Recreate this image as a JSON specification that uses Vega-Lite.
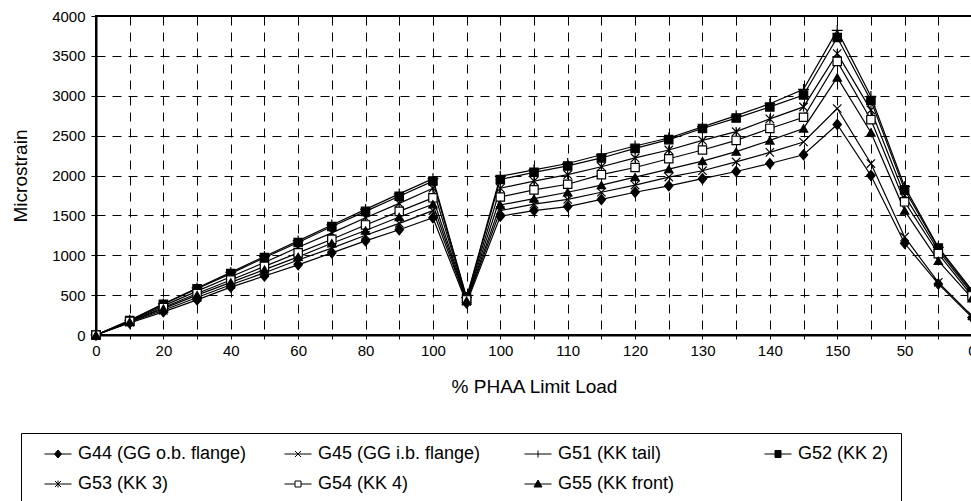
{
  "$schema": "https://vega.github.io/schema/vega-lite/v6.json",
  "autosize": {"type": "none"},
  "padding": {"left": 96, "top": 16, "right": 0, "bottom": 166},
  "width": 876,
  "height": 319,
  "background": "white",
  "config": {
    "font": "Liberation Sans",
    "view": {"stroke": "black", "strokeWidth": 2},
    "axis": {"labelColor": "black", "titleColor": "black", "titleFontWeight": "normal"},
    "legend": {
      "title": null, "orient": "none", "legendX": -75, "legendY": 417,
      "direction": "horizontal", "columns": 4, "gridAlign": "all",
      "columnPadding": 26, "rowPadding": 12, "padding": 12,
      "strokeColor": "black", "fillColor": "white",
      "labelFont": "Liberation Sans", "labelFontSize": 18, "labelColor": "black", "labelOffset": 11, "labelLimit": 400,
      "symbolSize": 100, "symbolOffset": 16, "symbolStrokeColor": "black", "symbolStrokeWidth": 1
    }
  },
  "data": {"values": [
    {"step":0,"gauge":"G44 (GG o.b. flange)","microstrain":0},
    {"step":1,"gauge":"G44 (GG o.b. flange)","microstrain":150},
    {"step":2,"gauge":"G44 (GG o.b. flange)","microstrain":290},
    {"step":3,"gauge":"G44 (GG o.b. flange)","microstrain":440},
    {"step":4,"gauge":"G44 (GG o.b. flange)","microstrain":600},
    {"step":5,"gauge":"G44 (GG o.b. flange)","microstrain":740},
    {"step":6,"gauge":"G44 (GG o.b. flange)","microstrain":880},
    {"step":7,"gauge":"G44 (GG o.b. flange)","microstrain":1030},
    {"step":8,"gauge":"G44 (GG o.b. flange)","microstrain":1180},
    {"step":9,"gauge":"G44 (GG o.b. flange)","microstrain":1320},
    {"step":10,"gauge":"G44 (GG o.b. flange)","microstrain":1470},
    {"step":11,"gauge":"G44 (GG o.b. flange)","microstrain":400},
    {"step":12,"gauge":"G44 (GG o.b. flange)","microstrain":1490},
    {"step":13,"gauge":"G44 (GG o.b. flange)","microstrain":1560},
    {"step":14,"gauge":"G44 (GG o.b. flange)","microstrain":1610},
    {"step":15,"gauge":"G44 (GG o.b. flange)","microstrain":1700},
    {"step":16,"gauge":"G44 (GG o.b. flange)","microstrain":1790},
    {"step":17,"gauge":"G44 (GG o.b. flange)","microstrain":1870},
    {"step":18,"gauge":"G44 (GG o.b. flange)","microstrain":1960},
    {"step":19,"gauge":"G44 (GG o.b. flange)","microstrain":2050},
    {"step":20,"gauge":"G44 (GG o.b. flange)","microstrain":2150},
    {"step":21,"gauge":"G44 (GG o.b. flange)","microstrain":2260},
    {"step":22,"gauge":"G44 (GG o.b. flange)","microstrain":2640},
    {"step":23,"gauge":"G44 (GG o.b. flange)","microstrain":2000},
    {"step":24,"gauge":"G44 (GG o.b. flange)","microstrain":1150},
    {"step":25,"gauge":"G44 (GG o.b. flange)","microstrain":640},
    {"step":26,"gauge":"G44 (GG o.b. flange)","microstrain":220},
    {"step":0,"gauge":"G45 (GG i.b. flange)","microstrain":0},
    {"step":1,"gauge":"G45 (GG i.b. flange)","microstrain":160},
    {"step":2,"gauge":"G45 (GG i.b. flange)","microstrain":310},
    {"step":3,"gauge":"G45 (GG i.b. flange)","microstrain":470},
    {"step":4,"gauge":"G45 (GG i.b. flange)","microstrain":630},
    {"step":5,"gauge":"G45 (GG i.b. flange)","microstrain":780},
    {"step":6,"gauge":"G45 (GG i.b. flange)","microstrain":940},
    {"step":7,"gauge":"G45 (GG i.b. flange)","microstrain":1090},
    {"step":8,"gauge":"G45 (GG i.b. flange)","microstrain":1250},
    {"step":9,"gauge":"G45 (GG i.b. flange)","microstrain":1400},
    {"step":10,"gauge":"G45 (GG i.b. flange)","microstrain":1560},
    {"step":11,"gauge":"G45 (GG i.b. flange)","microstrain":420},
    {"step":12,"gauge":"G45 (GG i.b. flange)","microstrain":1560},
    {"step":13,"gauge":"G45 (GG i.b. flange)","microstrain":1640},
    {"step":14,"gauge":"G45 (GG i.b. flange)","microstrain":1700},
    {"step":15,"gauge":"G45 (GG i.b. flange)","microstrain":1790},
    {"step":16,"gauge":"G45 (GG i.b. flange)","microstrain":1880},
    {"step":17,"gauge":"G45 (GG i.b. flange)","microstrain":1980},
    {"step":18,"gauge":"G45 (GG i.b. flange)","microstrain":2060},
    {"step":19,"gauge":"G45 (GG i.b. flange)","microstrain":2170},
    {"step":20,"gauge":"G45 (GG i.b. flange)","microstrain":2290},
    {"step":21,"gauge":"G45 (GG i.b. flange)","microstrain":2420},
    {"step":22,"gauge":"G45 (GG i.b. flange)","microstrain":2840},
    {"step":23,"gauge":"G45 (GG i.b. flange)","microstrain":2150},
    {"step":24,"gauge":"G45 (GG i.b. flange)","microstrain":1230},
    {"step":25,"gauge":"G45 (GG i.b. flange)","microstrain":660},
    {"step":26,"gauge":"G45 (GG i.b. flange)","microstrain":240},
    {"step":0,"gauge":"G51 (KK tail)","microstrain":0},
    {"step":1,"gauge":"G51 (KK tail)","microstrain":185},
    {"step":2,"gauge":"G51 (KK tail)","microstrain":390},
    {"step":3,"gauge":"G51 (KK tail)","microstrain":590},
    {"step":4,"gauge":"G51 (KK tail)","microstrain":785},
    {"step":5,"gauge":"G51 (KK tail)","microstrain":985},
    {"step":6,"gauge":"G51 (KK tail)","microstrain":1180},
    {"step":7,"gauge":"G51 (KK tail)","microstrain":1380},
    {"step":8,"gauge":"G51 (KK tail)","microstrain":1575},
    {"step":9,"gauge":"G51 (KK tail)","microstrain":1770},
    {"step":10,"gauge":"G51 (KK tail)","microstrain":1960},
    {"step":11,"gauge":"G51 (KK tail)","microstrain":470},
    {"step":12,"gauge":"G51 (KK tail)","microstrain":1990},
    {"step":13,"gauge":"G51 (KK tail)","microstrain":2070},
    {"step":14,"gauge":"G51 (KK tail)","microstrain":2150},
    {"step":15,"gauge":"G51 (KK tail)","microstrain":2260},
    {"step":16,"gauge":"G51 (KK tail)","microstrain":2370},
    {"step":17,"gauge":"G51 (KK tail)","microstrain":2470},
    {"step":18,"gauge":"G51 (KK tail)","microstrain":2610},
    {"step":19,"gauge":"G51 (KK tail)","microstrain":2750},
    {"step":20,"gauge":"G51 (KK tail)","microstrain":2900},
    {"step":21,"gauge":"G51 (KK tail)","microstrain":3080},
    {"step":22,"gauge":"G51 (KK tail)","microstrain":3820},
    {"step":23,"gauge":"G51 (KK tail)","microstrain":2990},
    {"step":24,"gauge":"G51 (KK tail)","microstrain":1860},
    {"step":25,"gauge":"G51 (KK tail)","microstrain":1100},
    {"step":26,"gauge":"G51 (KK tail)","microstrain":560},
    {"step":0,"gauge":"G52 (KK 2)","microstrain":0},
    {"step":1,"gauge":"G52 (KK 2)","microstrain":180},
    {"step":2,"gauge":"G52 (KK 2)","microstrain":385},
    {"step":3,"gauge":"G52 (KK 2)","microstrain":580},
    {"step":4,"gauge":"G52 (KK 2)","microstrain":770},
    {"step":5,"gauge":"G52 (KK 2)","microstrain":970},
    {"step":6,"gauge":"G52 (KK 2)","microstrain":1160},
    {"step":7,"gauge":"G52 (KK 2)","microstrain":1360},
    {"step":8,"gauge":"G52 (KK 2)","microstrain":1550},
    {"step":9,"gauge":"G52 (KK 2)","microstrain":1740},
    {"step":10,"gauge":"G52 (KK 2)","microstrain":1930},
    {"step":11,"gauge":"G52 (KK 2)","microstrain":460},
    {"step":12,"gauge":"G52 (KK 2)","microstrain":1950},
    {"step":13,"gauge":"G52 (KK 2)","microstrain":2040},
    {"step":14,"gauge":"G52 (KK 2)","microstrain":2120},
    {"step":15,"gauge":"G52 (KK 2)","microstrain":2220},
    {"step":16,"gauge":"G52 (KK 2)","microstrain":2340},
    {"step":17,"gauge":"G52 (KK 2)","microstrain":2450},
    {"step":18,"gauge":"G52 (KK 2)","microstrain":2590},
    {"step":19,"gauge":"G52 (KK 2)","microstrain":2720},
    {"step":20,"gauge":"G52 (KK 2)","microstrain":2860},
    {"step":21,"gauge":"G52 (KK 2)","microstrain":3010},
    {"step":22,"gauge":"G52 (KK 2)","microstrain":3730},
    {"step":23,"gauge":"G52 (KK 2)","microstrain":2940},
    {"step":24,"gauge":"G52 (KK 2)","microstrain":1820},
    {"step":25,"gauge":"G52 (KK 2)","microstrain":1090},
    {"step":26,"gauge":"G52 (KK 2)","microstrain":540},
    {"step":0,"gauge":"G53 (KK 3)","microstrain":0},
    {"step":1,"gauge":"G53 (KK 3)","microstrain":175},
    {"step":2,"gauge":"G53 (KK 3)","microstrain":365},
    {"step":3,"gauge":"G53 (KK 3)","microstrain":550},
    {"step":4,"gauge":"G53 (KK 3)","microstrain":730},
    {"step":5,"gauge":"G53 (KK 3)","microstrain":910},
    {"step":6,"gauge":"G53 (KK 3)","microstrain":1100},
    {"step":7,"gauge":"G53 (KK 3)","microstrain":1280},
    {"step":8,"gauge":"G53 (KK 3)","microstrain":1470},
    {"step":9,"gauge":"G53 (KK 3)","microstrain":1650},
    {"step":10,"gauge":"G53 (KK 3)","microstrain":1840},
    {"step":11,"gauge":"G53 (KK 3)","microstrain":450},
    {"step":12,"gauge":"G53 (KK 3)","microstrain":1840},
    {"step":13,"gauge":"G53 (KK 3)","microstrain":1930},
    {"step":14,"gauge":"G53 (KK 3)","microstrain":2010},
    {"step":15,"gauge":"G53 (KK 3)","microstrain":2110},
    {"step":16,"gauge":"G53 (KK 3)","microstrain":2220},
    {"step":17,"gauge":"G53 (KK 3)","microstrain":2320},
    {"step":18,"gauge":"G53 (KK 3)","microstrain":2440},
    {"step":19,"gauge":"G53 (KK 3)","microstrain":2550},
    {"step":20,"gauge":"G53 (KK 3)","microstrain":2710},
    {"step":21,"gauge":"G53 (KK 3)","microstrain":2860},
    {"step":22,"gauge":"G53 (KK 3)","microstrain":3530},
    {"step":23,"gauge":"G53 (KK 3)","microstrain":2820},
    {"step":24,"gauge":"G53 (KK 3)","microstrain":1750},
    {"step":25,"gauge":"G53 (KK 3)","microstrain":1060},
    {"step":26,"gauge":"G53 (KK 3)","microstrain":520},
    {"step":0,"gauge":"G54 (KK 4)","microstrain":0},
    {"step":1,"gauge":"G54 (KK 4)","microstrain":170},
    {"step":2,"gauge":"G54 (KK 4)","microstrain":345},
    {"step":3,"gauge":"G54 (KK 4)","microstrain":520},
    {"step":4,"gauge":"G54 (KK 4)","microstrain":690},
    {"step":5,"gauge":"G54 (KK 4)","microstrain":860},
    {"step":6,"gauge":"G54 (KK 4)","microstrain":1030},
    {"step":7,"gauge":"G54 (KK 4)","microstrain":1200},
    {"step":8,"gauge":"G54 (KK 4)","microstrain":1380},
    {"step":9,"gauge":"G54 (KK 4)","microstrain":1550},
    {"step":10,"gauge":"G54 (KK 4)","microstrain":1720},
    {"step":11,"gauge":"G54 (KK 4)","microstrain":440},
    {"step":12,"gauge":"G54 (KK 4)","microstrain":1730},
    {"step":13,"gauge":"G54 (KK 4)","microstrain":1820},
    {"step":14,"gauge":"G54 (KK 4)","microstrain":1890},
    {"step":15,"gauge":"G54 (KK 4)","microstrain":2010},
    {"step":16,"gauge":"G54 (KK 4)","microstrain":2100},
    {"step":17,"gauge":"G54 (KK 4)","microstrain":2210},
    {"step":18,"gauge":"G54 (KK 4)","microstrain":2320},
    {"step":19,"gauge":"G54 (KK 4)","microstrain":2440},
    {"step":20,"gauge":"G54 (KK 4)","microstrain":2590},
    {"step":21,"gauge":"G54 (KK 4)","microstrain":2730},
    {"step":22,"gauge":"G54 (KK 4)","microstrain":3430},
    {"step":23,"gauge":"G54 (KK 4)","microstrain":2700},
    {"step":24,"gauge":"G54 (KK 4)","microstrain":1670},
    {"step":25,"gauge":"G54 (KK 4)","microstrain":1020},
    {"step":26,"gauge":"G54 (KK 4)","microstrain":490},
    {"step":0,"gauge":"G55 (KK front)","microstrain":0},
    {"step":1,"gauge":"G55 (KK front)","microstrain":165},
    {"step":2,"gauge":"G55 (KK front)","microstrain":330},
    {"step":3,"gauge":"G55 (KK front)","microstrain":500},
    {"step":4,"gauge":"G55 (KK front)","microstrain":660},
    {"step":5,"gauge":"G55 (KK front)","microstrain":820},
    {"step":6,"gauge":"G55 (KK front)","microstrain":980},
    {"step":7,"gauge":"G55 (KK front)","microstrain":1150},
    {"step":8,"gauge":"G55 (KK front)","microstrain":1310},
    {"step":9,"gauge":"G55 (KK front)","microstrain":1480},
    {"step":10,"gauge":"G55 (KK front)","microstrain":1640},
    {"step":11,"gauge":"G55 (KK front)","microstrain":430},
    {"step":12,"gauge":"G55 (KK front)","microstrain":1630},
    {"step":13,"gauge":"G55 (KK front)","microstrain":1710},
    {"step":14,"gauge":"G55 (KK front)","microstrain":1790},
    {"step":15,"gauge":"G55 (KK front)","microstrain":1880},
    {"step":16,"gauge":"G55 (KK front)","microstrain":1980},
    {"step":17,"gauge":"G55 (KK front)","microstrain":2080},
    {"step":18,"gauge":"G55 (KK front)","microstrain":2180},
    {"step":19,"gauge":"G55 (KK front)","microstrain":2300},
    {"step":20,"gauge":"G55 (KK front)","microstrain":2440},
    {"step":21,"gauge":"G55 (KK front)","microstrain":2590},
    {"step":22,"gauge":"G55 (KK front)","microstrain":3230},
    {"step":23,"gauge":"G55 (KK front)","microstrain":2540},
    {"step":24,"gauge":"G55 (KK front)","microstrain":1560},
    {"step":25,"gauge":"G55 (KK front)","microstrain":930},
    {"step":26,"gauge":"G55 (KK front)","microstrain":460}
  ]},
  "encoding": {
    "x": {
      "field": "step", "type": "quantitative",
      "scale": {"domain": [0, 26], "nice": false, "zero": false},
      "axis": {
        "values": [0,1,2,3,4,5,6,7,8,9,10,11,12,13,14,15,16,17,18,19,20,21,22,23,24,25,26],
        "labelExpr": "datum.value % 2 == 0 ? ['0','20','40','60','80','100','100','110','120','130','140','150','50','0'][datum.value / 2] : ''",
        "labelOverlap": false, "labelFlush": false, "labelBound": false,
        "labelFontSize": 15, "labelPadding": 4,
        "tickSize": 4, "tickColor": "black", "tickWidth": 1,
        "domainColor": "black", "domainWidth": 2,
        "grid": true, "gridColor": "black", "gridDash": [9, 7], "gridWidth": 1, "gridOpacity": 1,
        "title": "% PHAA Limit Load", "titleFontSize": 19, "titlePadding": 19
      }
    },
    "y": {
      "field": "microstrain", "type": "quantitative",
      "scale": {"domain": [0, 4000], "nice": false},
      "axis": {
        "values": [0, 500, 1000, 1500, 2000, 2500, 3000, 3500, 4000],
        "format": "d",
        "labelFontSize": 15, "labelPadding": 6,
        "tickSize": 5, "tickColor": "black", "tickWidth": 1,
        "domainColor": "black", "domainWidth": 2,
        "grid": true, "gridColor": "black", "gridDash": [9, 7], "gridWidth": 1, "gridOpacity": 1,
        "title": "Microstrain", "titleFontSize": 19, "titlePadding": 21
      }
    }
  },
  "layer": [
    {
      "mark": {"type": "line", "color": "black", "strokeWidth": 1.2},
      "encoding": {"detail": {"field": "gauge", "type": "nominal"}}
    },
    {
      "mark": {"type": "point", "filled": true, "stroke": "black", "strokeWidth": 1.2, "size": 70, "opacity": 1},
      "encoding": {
        "shape": {
          "field": "gauge", "type": "nominal",
          "scale": {
            "domain": ["G44 (GG o.b. flange)", "G45 (GG i.b. flange)", "G51 (KK tail)", "G52 (KK 2)", "G53 (KK 3)", "G54 (KK 4)", "G55 (KK front)"],
            "range": ["M0,-1.2L1,0L0,1.2L-1,0Z", "M-1,-1L1,1M-1,1L1,-1", "M-1.3,0H1.3M0,-1.3V1.3", "square", "M-1,-1L1,1M-1,1L1,-1M0,-1.1V1.1", "square", "triangle-up"]
          },
          "legend": null
        },
        "fill": {
          "field": "gauge", "type": "nominal",
          "scale": {
            "domain": ["G44 (GG o.b. flange)", "G45 (GG i.b. flange)", "G51 (KK tail)", "G52 (KK 2)", "G53 (KK 3)", "G54 (KK 4)", "G55 (KK front)"],
            "range": ["black", "black", "black", "black", "black", "white", "black"]
          },
          "legend": null
        }
      }
    },
    {
      "transform": [{"filter": "datum.step < 0"}],
      "mark": {"type": "point", "filled": false, "strokeWidth": 1, "opacity": 1},
      "encoding": {
        "shape": {
          "field": "gauge", "type": "nominal",
          "scale": {
            "domain": ["G44 (GG o.b. flange)", "G45 (GG i.b. flange)", "G51 (KK tail)", "G52 (KK 2)", "G53 (KK 3)", "G54 (KK 4)", "G55 (KK front)"],
            "range": [
              "M-2.7,0H2.7M0,-0.8L0.7,0L0,0.8L-0.7,0Z",
              "M-2.7,0H2.7M-0.6,-0.6L0.6,0.6M-0.6,0.6L0.6,-0.6",
              "M-2.7,0H2.7M0,-0.7V0.7",
              "M-2.7,0H2.7M-0.6,-0.7H0.6V0.7H-0.6Z",
              "M-2.7,0H2.7M-0.6,-0.6L0.6,0.6M-0.6,0.6L0.6,-0.6M0,-0.7V0.7",
              "M-2.7,0H-0.6M0.6,0H2.7M-0.6,-0.6H0.6V0.6H-0.6Z",
              "M-2.7,0H2.7M0,-0.8L0.8,0.6H-0.8Z"
            ]
          }
        },
        "fill": {
          "field": "gauge", "type": "nominal",
          "scale": {
            "domain": ["G44 (GG o.b. flange)", "G45 (GG i.b. flange)", "G51 (KK tail)", "G52 (KK 2)", "G53 (KK 3)", "G54 (KK 4)", "G55 (KK front)"],
            "range": ["black", "black", "black", "black", "black", "white", "black"]
          }
        },
        "stroke": {
          "field": "gauge", "type": "nominal",
          "scale": {
            "domain": ["G44 (GG o.b. flange)", "G45 (GG i.b. flange)", "G51 (KK tail)", "G52 (KK 2)", "G53 (KK 3)", "G54 (KK 4)", "G55 (KK front)"],
            "range": ["black", "black", "black", "black", "black", "black", "black"]
          }
        }
      }
    }
  ],
  "resolve": {
    "scale": {"shape": "independent", "fill": "independent", "stroke": "independent"},
    "legend": {"shape": "independent", "fill": "independent", "stroke": "independent"}
  }
}
